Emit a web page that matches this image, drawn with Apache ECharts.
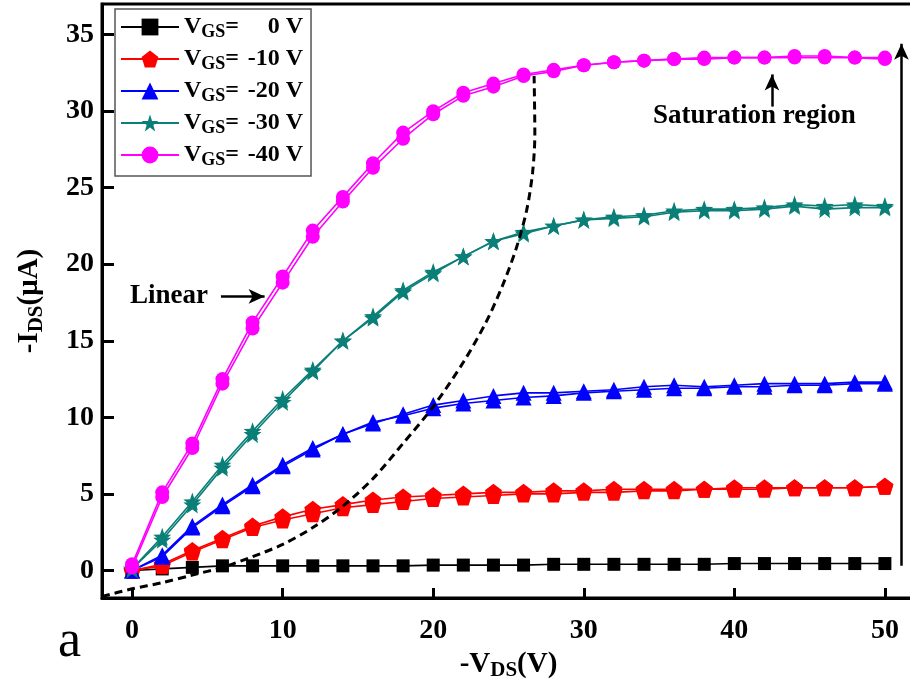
<!DOCTYPE html>
<html>
<head>
<meta charset="utf-8">
<script src="https://cdn.jsdelivr.net/npm/echarts@6/dist/echarts.min.js"></script>
<style>html,body{margin:0;padding:0;background:#fff}#c{width:910px;height:693px}</style>
</head>
<body>
<div id="c"></div>
<script>
// ---- data ----
var vds = [0,2,4,6,8,10,12,14,16,18,20,22,24,26,28,30,32,34,36,38,40,42,44,46,48,50];
var xTicks = [0,10,20,30,40,50];
var yTicks = [0,5,10,15,20,25,30,35];
var names = ['0 V','-10 V','-20 V','-30 V','-40 V'];

var id0 = [0,0.1,0.2,0.3,0.3,0.3,0.3,0.3,0.3,0.3,0.35,0.35,0.35,0.35,0.4,0.4,0.4,0.4,0.4,0.4,0.45,0.45,0.45,0.45,0.45,0.45];

var id10f = [0,0.4,1.3,2.1,2.9,3.5,4.0,4.3,4.6,4.8,4.9,5.0,5.1,5.1,5.2,5.2,5.3,5.3,5.3,5.3,5.4,5.4,5.4,5.4,5.4,5.5];
var id10r = [0,0.3,1.2,2.0,2.8,3.3,3.7,4.1,4.3,4.5,4.7,4.8,4.9,5.0,5.0,5.1,5.1,5.2,5.2,5.3,5.3,5.3,5.4,5.4,5.4,5.5];

var id20f = [0,1.0,2.9,4.3,5.6,6.9,8.0,8.9,9.7,10.1,10.6,10.9,11.1,11.3,11.4,11.6,11.7,11.8,11.9,11.9,12.0,12.0,12.1,12.1,12.2,12.2];
var id20r = [0,0.9,2.8,4.2,5.5,6.8,7.9,8.9,9.6,10.2,10.8,11.1,11.4,11.6,11.6,11.7,11.8,12.0,12.1,12.0,12.1,12.2,12.2,12.2,12.3,12.3];

var id30f = [0.1,2.0,4.3,6.7,8.9,11.0,13.0,15.0,16.5,18.2,19.4,20.5,21.5,22.0,22.5,22.9,23.0,23.1,23.4,23.5,23.5,23.6,23.8,23.6,23.7,23.7];
var id30r = [0.1,2.2,4.5,6.9,9.1,11.2,13.1,15.0,16.6,18.3,19.5,20.5,21.5,22.1,22.5,22.9,23.1,23.2,23.5,23.6,23.6,23.7,23.9,23.8,23.9,23.8];

var id40f = [0.2,4.8,8.0,12.2,15.8,18.8,21.8,24.1,26.3,28.2,29.8,31.0,31.6,32.3,32.6,33.0,33.2,33.3,33.4,33.4,33.5,33.5,33.5,33.5,33.5,33.4];
var id40r = [0.4,5.1,8.3,12.5,16.2,19.2,22.2,24.4,26.6,28.6,30.0,31.2,31.8,32.4,32.7,33.0,33.2,33.3,33.4,33.5,33.5,33.5,33.6,33.6,33.5,33.5];

// boundary between linear and saturation regions (dashed)
var dashX = [-2,0,2,4,6,8,10,12,14,16,18,20,22,23.5,24.6,25.5,26.2,26.6,26.75,26.7];
var dashY = [-1.7,-1.2,-0.8,-0.3,0.2,0.9,1.7,2.8,4.2,6.0,8.3,10.7,13.6,16.2,18.6,21.0,23.5,26.0,28.5,32.3];

// ---- build ----
function pairs(xs, ys){ return xs.map(function(x,i){ return [x, ys[i]]; }); }
var serif = '"Liberation Serif", "Times New Roman", serif';
var pentagon = 'path://M0,-10 L9.51,-3.09 L5.88,8.09 L-5.88,8.09 L-9.51,-3.09 Z';
var star = 'path://M0,-10 L2.35,-3.24 L9.51,-3.09 L3.8,1.24 L5.88,8.09 L0,4 L-5.88,8.09 L-3.8,1.24 L-9.51,-3.09 L-2.35,-3.24 Z';

var styles = [
  {color:'#000000', symbol:'rect', size:13},
  {color:'#ff0000', symbol:pentagon, size:17},
  {color:'#0000ff', symbol:'triangle', size:16},
  {color:'#0a7f78', symbol:star, size:18},
  {color:'#ff00ff', symbol:'circle', size:14}
];
var curves = [[id0], [id10f, id10r], [id20f, id20r], [id30f, id30r], [id40f, id40r]];

var series = [];
curves.forEach(function(arrs, k){
  var st = styles[k];
  arrs.forEach(function(ys){
    series.push({
      type:'line', name:names[k], data:pairs(vds, ys),
      symbol:st.symbol, symbolSize:st.size,
      itemStyle:{color:st.color},
      lineStyle:{color:st.color, width:1.6},
      animation:false, z:3
    });
  });
});

series.push({
  type:'line', name:'boundary', data:pairs(dashX, dashY), smooth:0.3,
  symbol:'none', lineStyle:{color:'#000', width:3, type:[8,5]}, z:5, animation:false,
  markLine:{
    silent:true, animation:false, symbol:['none','arrow'], symbolSize:[11,16],
    label:{show:false},
    lineStyle:{color:'#000', width:2.5, type:'solid'},
    data:[
      [{coord:[5.9,17.9]},{coord:[8.8,17.9]}],
      [{coord:[42.5,30.3]},{coord:[42.5,32.4]}],
      [{coord:[51.1,0.3]},{coord:[51.1,34.4]}]
    ]
  }
});

var chart = echarts.init(document.getElementById('c'), null, {renderer:'canvas'});
chart.setOption({
  backgroundColor:'#fff',
  animation:false,
  grid:{left:102, top:4, right:-5, bottom:95, show:true, borderColor:'#000', borderWidth:3,
        backgroundColor:'transparent', containLabel:false, outerBoundsMode:'none'},
  legend:{
    data:names, left:115, top:9, orient:'vertical',
    itemWidth:58, itemHeight:21, itemGap:6,
    padding:[6,8,7,5], borderColor:'#555', borderWidth:1.5,
    formatter:function(n){ return '{v|V}{s|GS}{v|=}{n|' + n + '}'; },
    textStyle:{
      color:'#000', fontFamily:serif, fontWeight:'bold', fontSize:24,
      rich:{
        v:{fontFamily:serif, fontWeight:'bold', fontSize:24, lineHeight:28, color:'#000'},
        s:{fontFamily:serif, fontWeight:'bold', fontSize:18, lineHeight:17, verticalAlign:'bottom', color:'#000'},
        n:{fontFamily:serif, fontWeight:'bold', fontSize:24, lineHeight:28, width:64, align:'right', color:'#000'}
      }
    }
  },
  xAxis:{
    type:'value', min:-2, max:52,
    name:'{a|-V}{s|DS}{a|(V)}', nameLocation:'middle', nameGap:48,
    nameTextStyle:{rich:{
      a:{fontFamily:serif, fontWeight:'bold', fontSize:29, lineHeight:34, color:'#000'},
      s:{fontFamily:serif, fontWeight:'bold', fontSize:21, lineHeight:20, verticalAlign:'bottom', color:'#000'}
    }},
    axisLine:{onZero:false, lineStyle:{color:'#000', width:3}},
    axisTick:{inside:true, length:10, lineStyle:{width:3, color:'#000'}, customValues:xTicks},
    axisLabel:{customValues:xTicks, margin:19, fontFamily:serif, fontWeight:'bold', fontSize:28, color:'#000'},
    splitLine:{show:false}
  },
  yAxis:{
    type:'value', min:-1.8, max:37,
    name:'{a|-I}{s|DS}{a|(μA)}', nameLocation:'middle', nameGap:55, nameRotate:90,
    nameTextStyle:{rich:{
      a:{fontFamily:serif, fontWeight:'bold', fontSize:29, lineHeight:34, color:'#000'},
      s:{fontFamily:serif, fontWeight:'bold', fontSize:21, lineHeight:20, verticalAlign:'bottom', color:'#000'}
    }},
    axisLine:{onZero:false, lineStyle:{color:'#000', width:3}},
    axisTick:{inside:true, length:12, lineStyle:{width:3, color:'#000'}, customValues:yTicks},
    axisLabel:{customValues:yTicks, margin:8, fontFamily:serif, fontWeight:'bold', fontSize:28, color:'#000'},
    splitLine:{show:false}
  },
  graphic:[
    {type:'text', left:130, top:283, style:{text:'Linear', font:'bold 27px ' + serif, fill:'#000'}},
    {type:'text', left:653, top:103, style:{text:'Saturation region', font:'bold 27px ' + serif, fill:'#000'}},
    {type:'text', left:58, top:616, style:{text:'a', font:'52px ' + serif, fill:'#000'}}
  ],
  series:series
});
</script>
</body>
</html>
